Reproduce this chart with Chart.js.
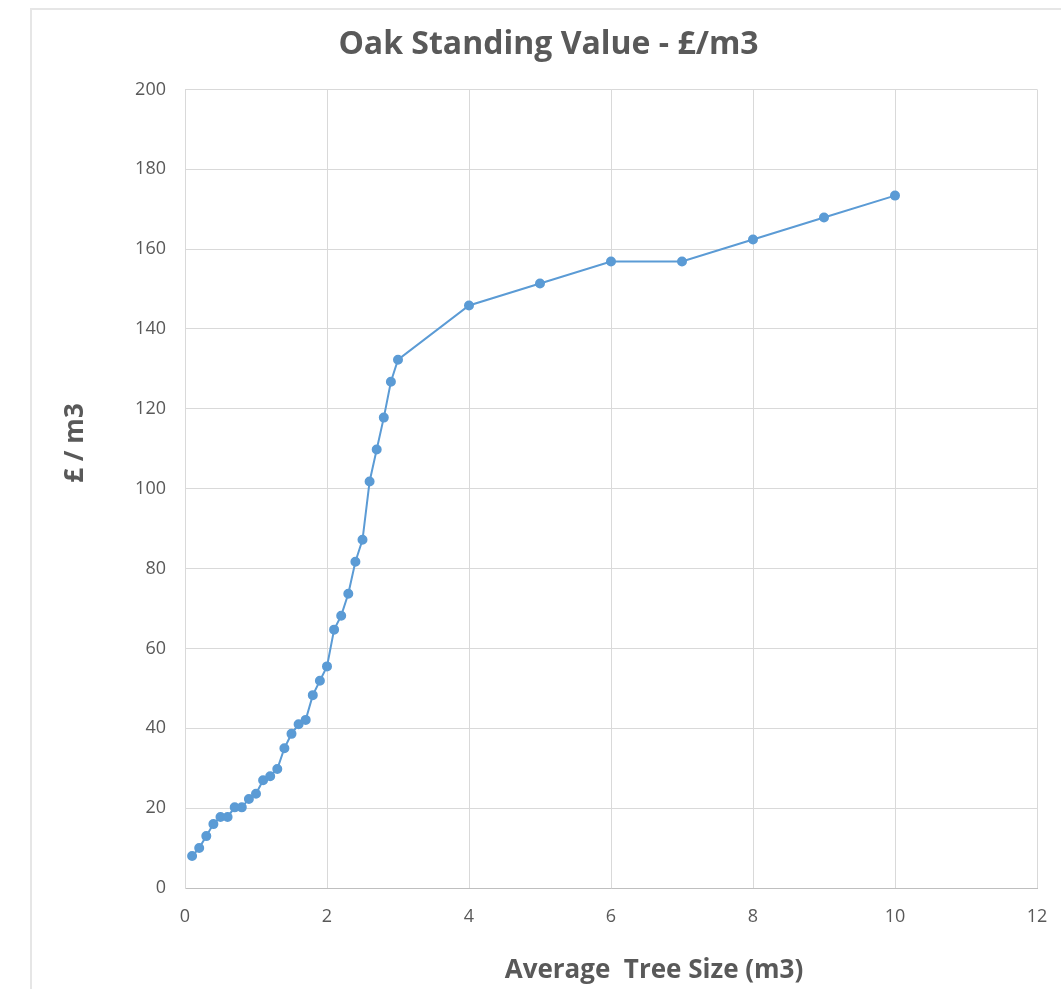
<!DOCTYPE html>
<html>
<head>
<meta charset="utf-8">
<title>Oak Standing Value</title>
<script src="https://cdn.jsdelivr.net/npm/chart.js@4.4.1/dist/chart.umd.min.js"></script>
<style>
  html, body { margin: 0; padding: 0; background: #fff; }
  #frame { position: absolute; left: 30px; top: 8px; width: 1100px; height: 1100px;
           border-left: 2px solid #e6e6e6; border-top: 2px solid #e6e6e6; }
  #wrap { position: absolute; left: 0; top: 0; width: 1061px; height: 989px; }
</style>
</head>
<body>
<div id="frame"></div>
<div id="wrap"><canvas id="chart" width="1061" height="989"></canvas></div>
<script>
// tree size (m3) vs standing value (£/m3)
const treeSize = [0.1, 0.2, 0.3, 0.4, 0.5, 0.6, 0.7, 0.8, 0.9, 1.0,
                  1.1, 1.2, 1.3, 1.4, 1.5, 1.6, 1.7, 1.8, 1.9, 2.0,
                  2.1, 2.2, 2.3, 2.4, 2.5, 2.6, 2.7, 2.8, 2.9, 3.0,
                  4, 5, 6, 7, 8, 9, 10];
const valuePerM3 = [8.0, 10.0, 13.0, 16.0, 17.8, 17.8, 20.2, 20.2, 22.3, 23.6,
                    27.0, 28.0, 29.8, 35.0, 38.6, 41.0, 42.1, 48.3, 51.9, 55.5,
                    64.7, 68.2, 73.7, 81.7, 87.2, 101.8, 109.8, 117.8, 126.8, 132.3,
                    145.9, 151.4, 156.9, 156.9, 162.4, 167.9, 173.4];
const xTicks = { min: 0, max: 12, step: 2 };
const yTicks = { min: 0, max: 200, step: 20 };
const chartTitle = 'Oak Standing Value - £/m3';
const xTitle = 'Average  Tree Size (m3)';
const yTitle = '£ / m3';

const FONT = '"Open Sans", "DejaVu Sans", sans-serif';
const GREY = '#595959';

const points = treeSize.map((x, i) => ({ x, y: valuePerM3[i] }));

// axis titles were dragged off-centre in the original, so draw them here
const axisTitles = {
  id: 'axisTitles',
  afterDraw(chart) {
    const ctx = chart.ctx;
    ctx.save();
    ctx.fillStyle = GREY;
    ctx.font = 'bold 26px ' + FONT;
    ctx.textAlign = 'center';
    ctx.textBaseline = 'middle';
    ctx.fillText(xTitle, 654, 971);
    ctx.translate(76, 443);
    ctx.rotate(-Math.PI / 2);
    ctx.fillText(yTitle, 0, 0);
    ctx.restore();
  }
};

new Chart(document.getElementById('chart'), {
  type: 'scatter',
  data: {
    datasets: [{
      label: 'Oak',
      data: points,
      showLine: true,
      borderColor: '#5b9bd5',
      backgroundColor: '#5b9bd5',
      borderWidth: 2,
      pointRadius: 4,
      pointHoverRadius: 4,
      tension: 0
    }]
  },
  plugins: [axisTitles],
  options: {
    responsive: false,
    animation: false,
    layout: { padding: { left: 60, right: 24, top: 0, bottom: 0 } },
    plugins: {
      legend: { display: false },
      tooltip: { enabled: false },
      title: {
        display: true,
        text: chartTitle,
        color: GREY,
        font: { family: FONT, size: 32, weight: 'bold', lineHeight: 1.2 },
        padding: { top: 26, bottom: 25 }
      }
    },
    scales: {
      x: {
        type: 'linear',
        min: xTicks.min, max: xTicks.max,
        ticks: { stepSize: xTicks.step, color: GREY, padding: 18,
                 font: { family: FONT, size: 18 } },
        grid: { color: '#d9d9d9', drawTicks: false },
        border: { color: '#bfbfbf', width: 1 },
        afterFit: s => { s.height = 101; s.paddingLeft = 0; s.paddingRight = 0; }
      },
      y: {
        type: 'linear',
        min: yTicks.min, max: yTicks.max,
        ticks: { stepSize: yTicks.step, color: GREY, padding: 19,
                 font: { family: FONT, size: 18 } },
        grid: { color: '#d9d9d9', drawTicks: false },
        border: { color: '#d9d9d9', width: 1 },
        afterFit: s => { s.width = 125; }
      }
    }
  }
});
</script>
</body>
</html>
